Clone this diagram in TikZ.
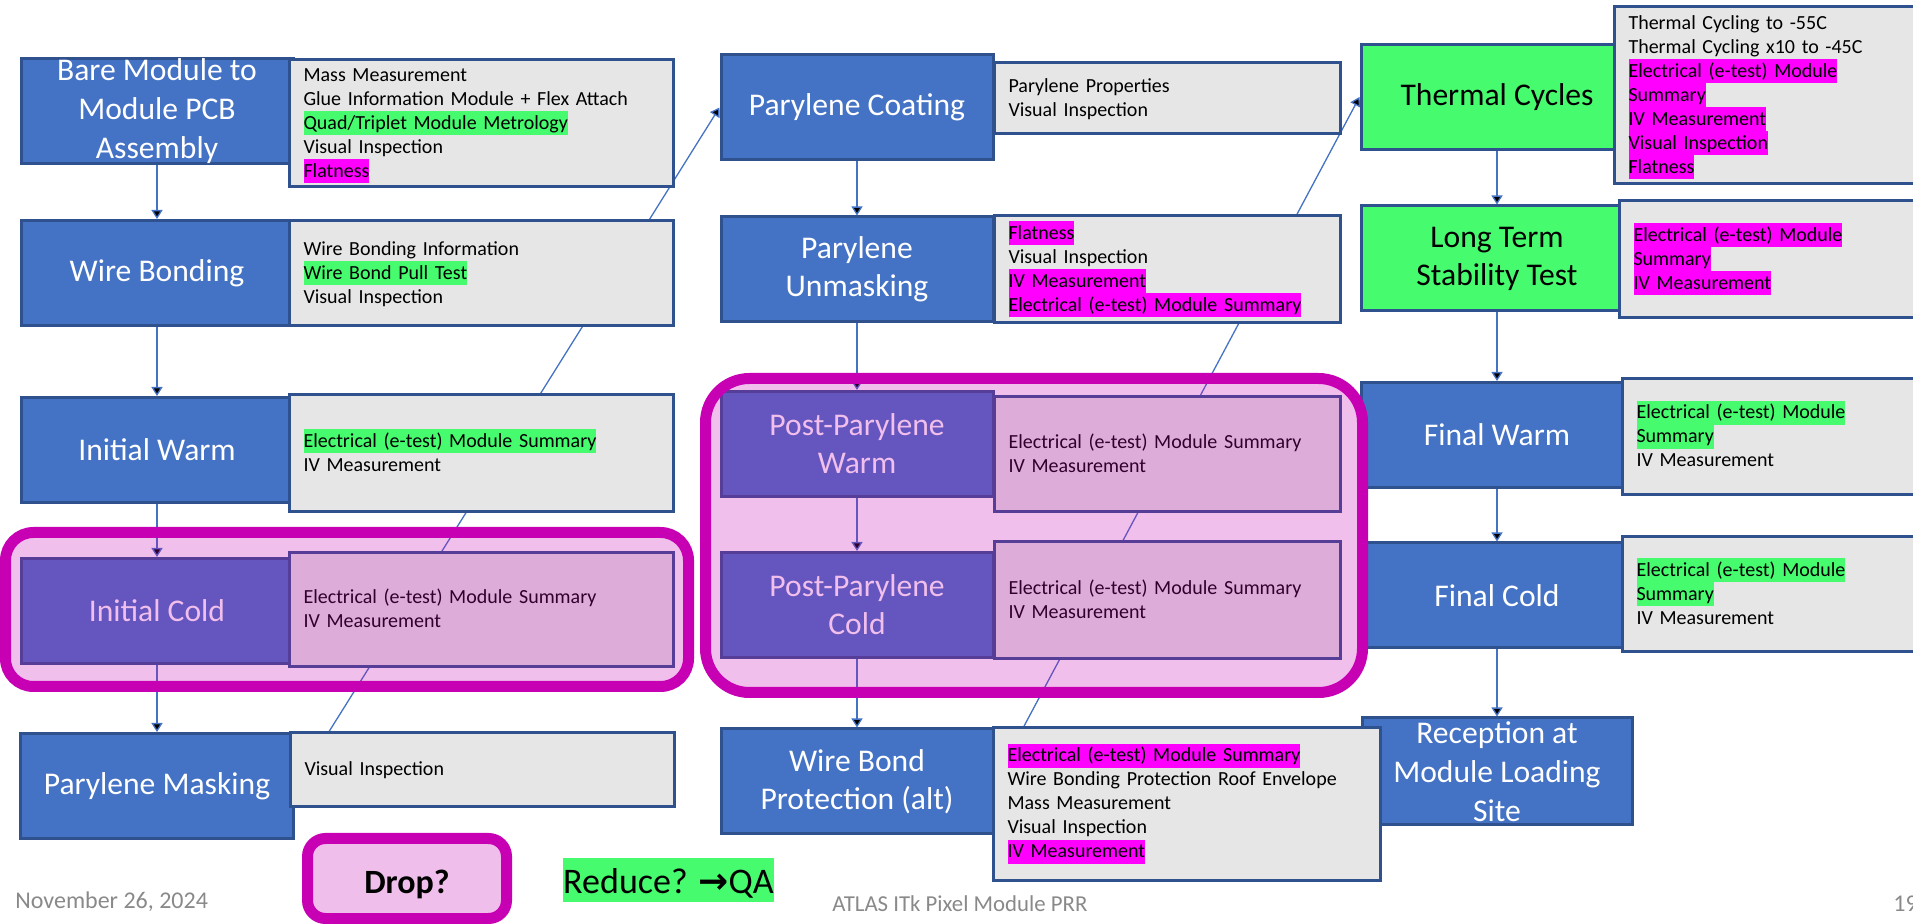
\documentclass[tikz,border=0pt]{standalone}
\usepackage{fontspec}
\setmainfont{Carlito}[WordSpace={1,0,0}]
\newfontfamily\arrowfont{DejaVu Sans}
\usepackage{xcolor}
\usepackage{tikz}
\usetikzlibrary{arrows.meta,backgrounds}

\definecolor{boxblue}{HTML}{4472C4}
\definecolor{edgeblue}{HTML}{2F528F}
\definecolor{infogray}{HTML}{E6E6E6}
\definecolor{hlgreen}{HTML}{47FB6F}
\definecolor{hlmag}{HTML}{FF00FF}
\definecolor{grpmag}{HTML}{C800B4}
\definecolor{droppink}{HTML}{F0BEEB}
\definecolor{footgray}{HTML}{898989}

\newcommand{\hlstrut}{\relax\leavevmode\vrule width 0pt height 9pt depth 3pt\relax}
\newcommand{\hlg}[1]{{\setlength{\fboxsep}{0pt}\colorbox{hlgreen}{\hlstrut#1}}}
\newcommand{\hlm}[1]{{\setlength{\fboxsep}{0pt}\colorbox{hlmag}{\hlstrut#1}}}

\tikzset{
  stage/.style={draw=edgeblue, fill=boxblue, line width=1.5pt, minimum width=136pt,
    minimum height=52.5pt, inner sep=0pt, text=white, align=center,
    font=\fontsize{15.8}{19}\selectfont},
  greenstage/.style={stage, fill=hlgreen, text=black},
  stagetext/.style={inner sep=0pt, text=white, align=center, font=\fontsize{15.8}{19.5}\selectfont},
  info/.style={draw=edgeblue, fill=infogray, line width=1.5pt, anchor=west, align=left,
    inner xsep=7pt, inner ysep=0pt, font=\fontsize{10}{12}\selectfont,
    execute at begin node=\hlstrut, execute at end node=\hlstrut},
  infoA/.style={info, text width=178pt},
  infoB/.style={info, text width=159pt},
  infoC/.style={info, text width=186pt},
  flow/.style={draw=boxblue, line width=0.65pt, -{Triangle[width=5.5pt,length=4.5pt]}},
  group/.style={draw=grpmag, fill=grpmag, fill opacity=0.25, line width=5.5pt},
  foot/.style={anchor=base west, inner sep=0pt, text=footgray, font=\fontsize{12}{14}\selectfont},
}

\begin{document}
\begin{tikzpicture}[x=0.5pt,y=-0.5pt]
\useasboundingbox (0,0) rectangle (1913,924);
\clip (0,0) rectangle (1913,924);
% first column
\node[stage] (bare) at (157,111.5) {};
\node[stagetext] (baretxt) at (bare) {Bare Module to\\Module PCB\\Assembly};
\node[stage] (wireb) at (157,273) {Wire Bonding};
\node[stage] (iwarm) at (157,450) {Initial Warm};
\node[stage] (icold) at (157,611) {Initial Cold};
\node[stage, minimum width=136.5pt] (mask) at (157,786) {Parylene Masking};
% second column
\node[stage] (coat) at (857,107.5) {Parylene Coating};
\node[stage] (unmask) at (857,269.5) {Parylene\\Unmasking};
\node[stage] (ppwarm) at (857,444) {Post-Parylene\\Warm};
\node[stage] (ppcold) at (857,605) {Post-Parylene\\Cold};
\node[stage] (wbp) at (857,781.5) {Wire Bond\\Protection (alt)};
% third column
\node[greenstage] (tc) at (1497,97) {Thermal Cycles};
\node[greenstage] (lt) at (1497,258.5) {Long Term\\Stability Test};
\node[stage] (fw) at (1497,435) {Final Warm};
\node[stage] (fc) at (1497,595.5) {Final Cold};
\node[stage, minimum width=135pt, minimum height=53.5pt] (recep) at (1497,771.5) {};
\node[stagetext] (receptxt) at (recep) {Reception at\\Module Loading\\Site};
%
\node[infoA, minimum height=63.5pt] (bareinfo) at (288,123.5)
  {Mass Measurement\\Glue Information Module + Flex Attach\\\hlg{Quad/Triplet Module Metrology}\\Visual Inspection\\\hlm{Flatness}};
\node[infoA, minimum height=52.5pt] (wirebinfo) at (288,273.5)
  {Wire Bonding Information\\\hlg{Wire Bond Pull Test}\\Visual Inspection};
\node[infoA, minimum height=58.5pt] (iwarminfo) at (288,453.5)
  {\hlg{Electrical (e-test) Module Summary}\\IV Measurement};
\node[infoA, minimum height=57pt] (icoldinfo) at (288,610)
  {Electrical (e-test) Module Summary\\IV Measurement};
\node[infoA, minimum height=37pt] (maskinfo) at (289,770) {Visual Inspection};
\node[infoB, minimum height=35.5pt] (coatinfo) at (993,98.5)
  {Parylene Properties\\Visual Inspection};
\node[infoB, minimum height=53.5pt] (unmaskinfo) at (993,269.5)
  {\hlm{Flatness}\\Visual Inspection\\\hlm{IV Measurement}\\\hlm{Electrical (e-test) Module Summary}};
\node[infoB, minimum height=57.5pt] (ppwinfo) at (993,454.5)
  {Electrical (e-test) Module Summary\\IV Measurement};
\node[infoB, minimum height=58.5pt] (ppcinfo) at (993,600.5)
  {Electrical (e-test) Module Summary\\IV Measurement};
\node[infoB, text width=179.5pt, minimum height=76pt] (wbpinfo) at (992,804)
  {\hlm{Electrical (e-test) Module Summary}\\Wire Bonding Protection Roof Envelope\\Mass Measurement\\Visual Inspection\\\hlm{IV Measurement}};
\node[infoC, minimum height=88.5pt] (tcinfo) at (1613,95.5)
  {Thermal Cycling to -55C\\Thermal Cycling x10 to -45C\\\hlm{Electrical (e-test) Module}\\\hlm{Summary}\\\hlm{IV Measurement}\\\hlm{Visual Inspection}\\\hlm{Flatness}};
\node[infoC, minimum height=58.5pt] (ltinfo) at (1618,259.5)
  {\hlm{Electrical (e-test) Module}\\\hlm{Summary}\\\hlm{IV Measurement}};
\node[infoC, minimum height=58pt] (fwinfo) at (1621,437)
  {\hlg{Electrical (e-test) Module}\\\hlg{Summary}\\IV Measurement};
\node[infoC, minimum height=57.5pt] (fcinfo) at (1621,594.5)
  {\hlg{Electrical (e-test) Module}\\\hlg{Summary}\\IV Measurement};
%
\begin{scope}[on background layer]
\path[flow]
  (bare) edge (wireb) (wireb) edge (iwarm) (iwarm) edge (icold) (icold) edge (mask)
  (coat) edge (unmask) (unmask) edge (ppwarm) (ppwarm) edge (ppcold) (ppcold) edge (wbp)
  (tc) edge (lt) (lt) edge (fw) (fw) edge (fc) (fc) edge (recep)
  (mask.east) edge (coat.west)
  (wbp.east) edge (tc.west);
\end{scope}
% highlighted groups
\draw[group, rounded corners=14pt] (5.5,532.5) rectangle (688.5,686.5);
\draw[group, rounded corners=22pt] (705.5,378.5) rectangle (1362.5,692.5);
% legend
\node[draw=grpmag, fill=droppink, line width=5.5pt, rounded corners=9pt, minimum width=99.5pt,
  minimum height=40pt, inner sep=0pt, text height=14.5pt, text depth=0pt,
  font=\fontsize{17}{20}\selectfont\bfseries] (drop) at (407,878.5) {Drop?};
\node[fill=hlgreen, inner sep=0pt, text height=17.5pt, text depth=4.5pt,
  font=\fontsize{18}{22}\selectfont] (reduce) at (668.5,880) {Reduce? {\arrowfont\bfseries →}QA};
% footer
\node[foot] (date) at (15,908) {November 26, 2024};
\node[foot, font=\fontsize{11.4}{14}\selectfont] (title) at (832,911) {ATLAS ITk Pixel Module PRR};
\node[foot] (page) at (1893,911) {19};
\end{tikzpicture}
\end{document}
